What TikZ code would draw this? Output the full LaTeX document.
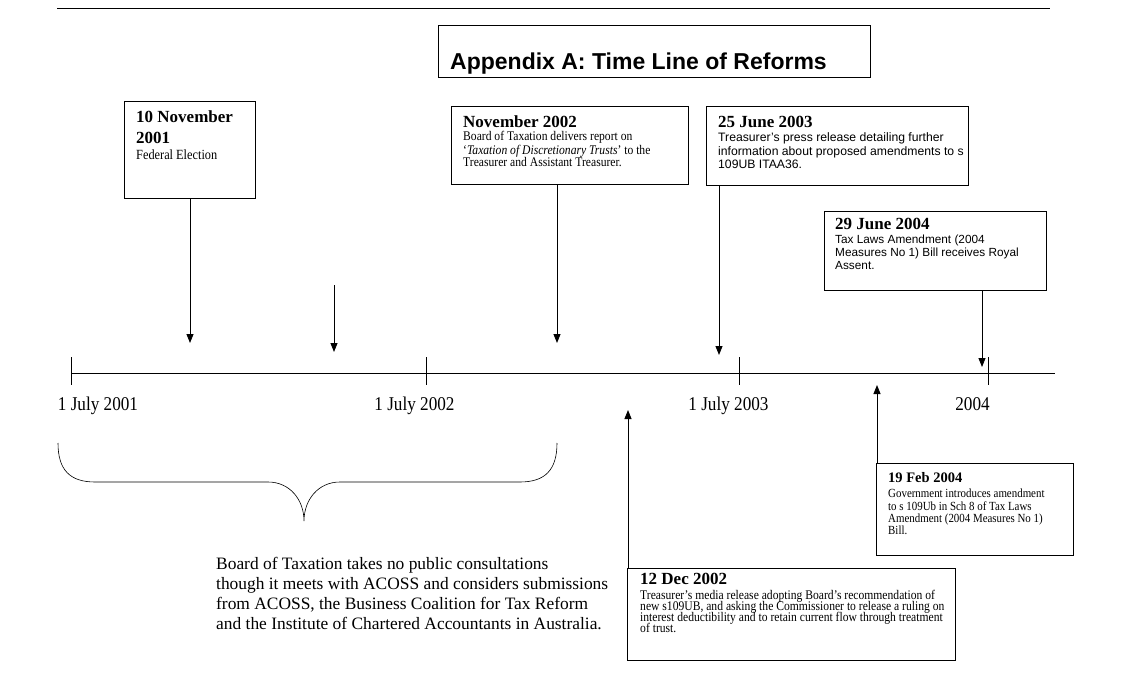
\documentclass[tikz,border=0pt]{standalone}
\usepackage{fontspec}
\setmainfont{Liberation Serif}
\newfontfamily\arialf{Liberation Sans}
\newfontfamily\tallserif[FakeStretch=0.88]{Liberation Serif}
\newfontfamily\condserif[FakeStretch=0.88]{Liberation Serif}
\usetikzlibrary{arrows.meta}
\tikzset{
  box/.style={draw, line width=0.9pt, inner sep=0pt, anchor=north west},
  arr/.style={line width=0.9pt, -{Triangle[length=9pt,width=7pt]}},
  t/.style={anchor=base west, inner sep=0pt},
  tc/.style={anchor=base, inner sep=0pt},
  hd/.style={t, font=\bfseries\fontsize{17}{20}\selectfont},
  sbody/.style={t, font=\tallserif\fontsize{13.2}{13}\selectfont},
  abody/.style={t, font=\arialf\fontsize{12.2}{13}\selectfont},
  big/.style={font=\fontsize{17.4}{20}\selectfont},
  lbl/.style={tc, font=\condserif\fontsize{19.5}{20}\selectfont},
}
\begin{document}
\begin{tikzpicture}[x=1pt,y=-1pt]
\useasboundingbox (0,0) rectangle (1127,690);
% top rule
\coordinate (r0) at (57,9); \coordinate (r1) at (1050,9);
\draw[line width=1pt] (r0) -- (r1);
% title
\node[box, minimum width=432pt, minimum height=52pt] (title) at (438,25) {};
\node[t, font=\arialf\bfseries\fontsize{23}{26}\selectfont] (titletext) at (450,70) {Appendix A: Time Line of Reforms};

% boxes
\node[box, minimum width=131pt, minimum height=97pt] (b1) at (124,101) {};
\node[box, minimum width=237pt, minimum height=78pt] (b2) at (451,106) {};
\node[box, minimum width=262pt, minimum height=79pt] (b3) at (706,106) {};
\node[box, minimum width=222pt, minimum height=79pt] (b4) at (824,211) {};
\node[box, minimum width=197pt, minimum height=92pt] (b5) at (876,463) {};
\node[box, minimum width=328pt, minimum height=92pt] (b6) at (627,568) {};

% box 1 text
\node[hd] (h1a) at (136,123) {10 November};
\node[hd] (h1b) at (136,143) {2001};
\node[t, font=\tallserif\fontsize{14}{14}\selectfont] (x1a) at (136,160) {Federal Election};

% box 2 text
\node[hd] (h2) at (463,128) {November 2002};
\node[sbody] (x2a) at (463,141) {Board of Taxation delivers report on};
\node[sbody] (x2b) at (463,154) {‘\textit{Taxation of Discretionary Trusts}’ to the};
\node[sbody] (x2c) at (463,167) {Treasurer and Assistant Treasurer.};

% box 3 text
\node[hd] (h3) at (718,128) {25 June 2003};
\node[abody] (x3a) at (718,142) {Treasurer’s press release detailing further};
\node[abody] (x3b) at (718,155) {information about proposed amendments to s};
\node[abody] (x3c) at (718,168) {109UB ITAA36.};

% box 4 text
\node[hd] (h4) at (835,229) {29 June 2004};
\node[abody, font=\arialf\fontsize{11.8}{13}\selectfont] (x4a) at (835,243) {Tax Laws Amendment (2004};
\node[abody, font=\arialf\fontsize{11.8}{13}\selectfont] (x4b) at (835,256) {Measures No 1) Bill receives Royal};
\node[abody, font=\arialf\fontsize{11.8}{13}\selectfont] (x4c) at (835,269) {Assent.};

% box 5 text
\node[t, font=\bfseries\fontsize{14.5}{17}\selectfont] (h5) at (888,482) {19 Feb 2004};
\node[t, font=\tallserif\fontsize{12.4}{12}\selectfont] (x5a) at (888,497) {Government introduces amendment};
\node[t, font=\tallserif\fontsize{12.4}{12}\selectfont] (x5b) at (888,510) {to s 109Ub in Sch 8 of Tax Laws};
\node[t, font=\tallserif\fontsize{12.4}{12}\selectfont] (x5c) at (888,522) {Amendment (2004 Measures No 1)};
\node[t, font=\tallserif\fontsize{12.4}{12}\selectfont] (x5d) at (888,534) {Bill.};

% box 6 text
\node[hd] (h6) at (640,584) {12 Dec 2002};
\node[sbody] (x6a) at (640,599) {Treasurer’s media release adopting Board’s recommendation of};
\node[sbody] (x6b) at (640,610) {new s109UB, and asking the Commissioner to release a ruling on};
\node[sbody] (x6c) at (640,621) {interest deductibility and to retain current flow through treatment};
\node[sbody] (x6d) at (640,632) {of trust.};

% timeline
\coordinate (tl0) at (71,373); \coordinate (tl1) at (1055,373);
\draw[line width=1pt] (tl0) -- (tl1);
\foreach \x/\n in {71/k1,426/k2,739/k3,988/k4}{
  \coordinate (\n a) at (\x,357); \coordinate (\n b) at (\x,385);
  \draw[line width=0.9pt] (\n a) -- (\n b);
}
\node[lbl] (l1) at (98,410) {1 July 2001};
\node[lbl] (l2) at (414.5,410) {1 July 2002};
\node[lbl] (l3) at (728.5,410) {1 July 2003};
\node[lbl] (l4) at (972.5,410) {2004};

% arrows
\coordinate (t1) at (190,343);
\coordinate (t2) at (557,343);
\coordinate (t3) at (719,355);
\coordinate (t4) at (982,367);
\coordinate (t5) at (877,385);
\coordinate (t6) at (628,410);
\coordinate (s7) at (334,285); \coordinate (t7) at (334,352);
\draw[arr] (b1.south -| t1) -- (t1);
\draw[arr] (b2.south -| t2) -- (t2);
\draw[arr] (b3.south -| t3) -- (t3);
\draw[arr] (b4.south -| t4) -- (t4);
\draw[arr] (b5.north -| t5) -- (t5);
\draw[arr] (b6.north -| t6) -- (t6);
\draw[arr] (s7) -- (t7);

% brace
\coordinate (br0) at (58,443); \coordinate (br1) at (557,443); \coordinate (brtip) at (304,521);
\draw[line width=0.6pt] (br0) .. controls (58,470) and (70,482) .. (95,482) -- (268,482)
  .. controls (290,482) and (304,500) .. (brtip)
  .. controls (304,500) and (318,482) .. (340,482) -- (520,482)
  .. controls (545,482) and (557,470) .. (br1);

% paragraph
\node[t, big] (p1) at (216,569) {Board of Taxation takes no public consultations};
\node[t, big] (p2) at (216,589) {though it meets with ACOSS and considers submissions};
\node[t, big] (p3) at (216,609) {from ACOSS, the Business Coalition for Tax Reform};
\node[t, big] (p4) at (216,629) {and the Institute of Chartered Accountants in Australia.};
\end{tikzpicture}
\end{document}
